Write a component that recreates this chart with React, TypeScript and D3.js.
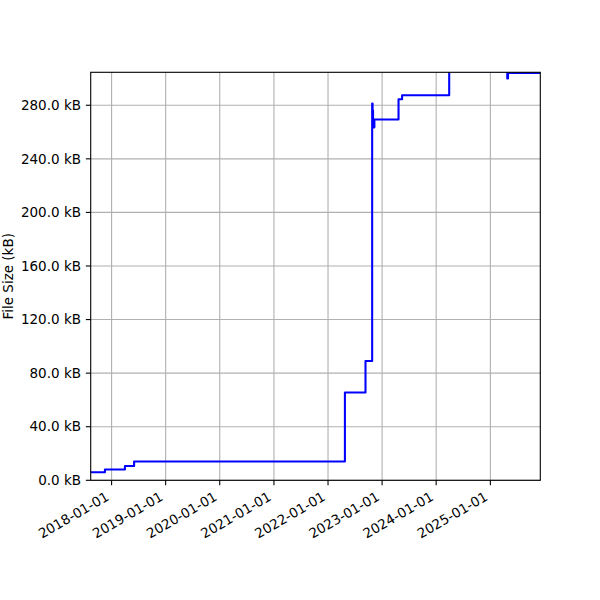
import React from "react";
import * as d3 from "d3";

const dates: string[] = [
  "2017-08-13",
  "2017-11-17",
  "2018-04-01",
  "2018-06-02",
  "2022-04-25",
  "2022-09-11",
  "2022-10-26",
  "2022-10-29",
  "2022-11-01",
  "2022-11-04",
  "2022-11-10",
  "2023-04-22",
  "2023-05-16",
  "2024-03-29",
  "2025-04-25",
  "2025-04-30",
  "2025-12-06",
];
const sizesKB: number[] = [
  6.0, 8.0, 10.7, 14.0, 65.5, 89.1, 281.3, 276, 266, 263.5, 269.3, 284.5, 287.5, 305.5, 300.0, 304.2, 304.2,
];
const yTicks: number[] = [0, 40, 80, 120, 160, 200, 240, 280];
const xTickLabels: string[] = [
  "2018-01-01",
  "2019-01-01",
  "2020-01-01",
  "2021-01-01",
  "2022-01-01",
  "2023-01-01",
  "2024-01-01",
  "2025-01-01",
];
const xDomain: string[] = ["2017-08-13", "2025-12-04"];
const yMax = 304.6;

const W = 600;
const H = 600;
const left = 90.7;
const right = 540.3;
const top = 72.3;
const bottom = 480.3;
const FONT = "DejaVu Sans, sans-serif";
const FS = 13.5;
const THIN = 1.1;

export default function App() {
  const parse = (s: string) => new Date(s + "T00:00:00Z");
  const x = d3.scaleUtc().domain(xDomain.map(parse)).range([left, right]);
  const y = d3.scaleLinear().domain([0, yMax]).range([bottom, top]);
  const data = dates.map((d, i) => ({ d: parse(d), v: sizesKB[i] }));
  const line = d3
    .line<{ d: Date; v: number }>()
    .x((p) => x(p.d))
    .y((p) => y(p.v))
    .curve(d3.curveStepAfter);
  const tickLen = 4.86;

  return (
    <svg
      width={W}
      height={H}
      style={{ display: "block", position: "absolute", left: 0, top: 0, overflow: "visible" }}
    >
      <rect x={0} y={0} width={W} height={H} fill="white" />
      <defs>
        <clipPath id="plotclip">
          <rect x={left} y={top} width={right - left} height={bottom - top} />
        </clipPath>
      </defs>
      {xTickLabels.map((t) => (
        <line
          key={"gx" + t}
          x1={x(parse(t))}
          x2={x(parse(t))}
          y1={top}
          y2={bottom}
          stroke="#b0b0b0"
          strokeWidth={THIN}
        />
      ))}
      {yTicks.map((t) => (
        <line
          key={"gy" + t}
          x1={left}
          x2={right}
          y1={y(t)}
          y2={y(t)}
          stroke="#b0b0b0"
          strokeWidth={THIN}
        />
      ))}
      <path
        d={line(data) || ""}
        fill="none"
        stroke="#0000ff"
        strokeWidth={2.08}
        clipPath="url(#plotclip)"
        strokeLinejoin="round"
      />
      <rect
        x={left}
        y={top}
        width={right - left}
        height={bottom - top}
        fill="none"
        stroke="black"
        strokeWidth={THIN}
      />
      {yTicks.map((t) => (
        <g key={"yt" + t}>
          <line x1={left - tickLen} x2={left} y1={y(t)} y2={y(t)} stroke="black" strokeWidth={THIN} />
          <text
            x={left - tickLen - 4.86}
            y={y(t)}
            dy="0.35em"
            textAnchor="end"
            fontFamily={FONT}
            fontSize={FS}
            fill="black"
          >
            {t.toFixed(1) + " kB"}
          </text>
        </g>
      ))}
      {xTickLabels.map((t) => {
        const px = x(parse(t));
        const ax = px - 1.7;
        const ay = 499.5;
        return (
          <g key={"xt" + t}>
            <line x1={px} x2={px} y1={bottom} y2={bottom + tickLen} stroke="black" strokeWidth={THIN} />
            <text
              x={ax}
              y={ay}
              textAnchor="end"
              transform={`rotate(-30 ${ax} ${ay})`}
              fontFamily={FONT}
              fontSize={FS}
              fill="black"
            >
              {t}
            </text>
          </g>
        );
      })}
      <text
        x={0}
        y={0}
        transform={`translate(13 ${(top + bottom) / 2}) rotate(-90)`}
        textAnchor="middle"
        fontFamily={FONT}
        fontSize={FS}
        fill="black"
      >
        File Size (kB)
      </text>
    </svg>
  );
}
